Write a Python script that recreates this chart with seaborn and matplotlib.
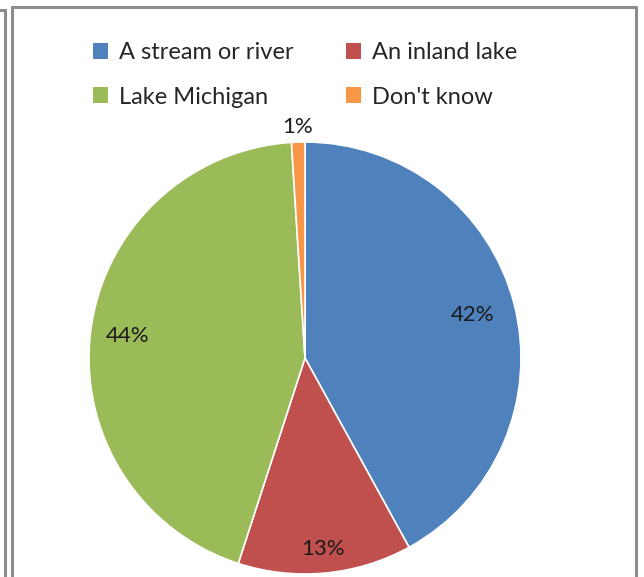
import matplotlib
matplotlib.use("Agg")
import matplotlib.pyplot as plt
from matplotlib.lines import Line2D
from matplotlib.patches import Patch
import numpy as np
import seaborn as sns

categories = ["A stream or river", "An inland lake", "Lake Michigan", "Don't know"]
shares = [42, 13, 44, 1]
label_texts = ["42%", "13%", "44%", "1%"]
label_radius = [0.80, 0.89, 0.83, 1.07]
colors = sns.color_palette(["#4F81BD", "#C0504D", "#9BBB59", "#F79646"])

sns.set_theme(style="white")
plt.rcParams["font.family"] = ["Lato", "DejaVu Sans"]

W, H = 644, 577
fig = plt.figure(figsize=(W / 100, H / 100), dpi=100)
fig.patch.set_facecolor("white")

# chart frames
frame_kw = dict(color="#8c8c8c", linewidth=2.2, transform=fig.transFigure)
def px(x, y):
    return x / W, 1 - y / H
for (x0, y0), (x1, y1) in [((12, 577), (12, 7)), ((12, 7), (636, 7)), ((636, 7), (636, 577)),
                           ((0, 10), (5, 10)), ((5, 10), (5, 577))]:
    a, b = px(x0, y0), px(x1, y1)
    fig.add_artist(Line2D([a[0], b[0]], [a[1], b[1]], **frame_kw))

# pie axes: centre (305, 358), radius 216 px
cx, cy, r = 305, 358, 216
ax = fig.add_axes([(cx - r) / W, 1 - (cy + r) / H, 2 * r / W, 2 * r / H])
wedges, _ = ax.pie(shares, colors=colors, startangle=90, counterclock=False,
                   wedgeprops=dict(edgecolor="white", linewidth=1.2))
ax.set_xlim(-1, 1)
ax.set_ylim(-1, 1)
ax.set_aspect("equal")
ax.axis("off")

for w, txt, d in zip(wedges, label_texts, label_radius):
    mid = np.deg2rad((w.theta1 + w.theta2) / 2)
    ax.text(d * np.cos(mid), d * np.sin(mid), txt, ha="center", va="center",
            fontsize=16, color="#1a1a1a", clip_on=False)

# legend laid out row by row (two entries per row)
handles = [Patch(facecolor=c, edgecolor="none") for c in colors]
order = [0, 2, 1, 3]
fig.legend([handles[i] for i in order], [categories[i] for i in order], ncol=2,
           loc="upper left", bbox_to_anchor=(93 / W, 1 - 42 / H), frameon=False,
           fontsize=17, handlelength=0.65, handleheight=0.65, handletextpad=0.45,
           columnspacing=2.2, labelspacing=1.0, borderpad=0, borderaxespad=0)

fig.savefig("out.png", dpi=100, facecolor="white")
